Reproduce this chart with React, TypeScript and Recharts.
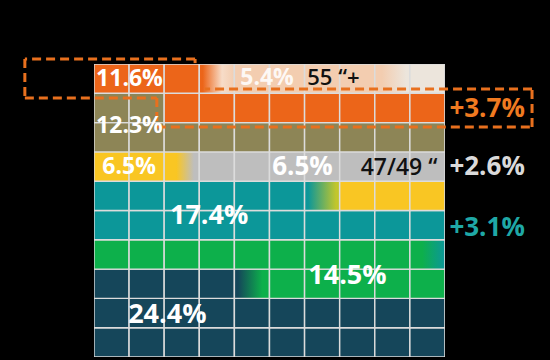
import React from "react";
import { BarChart, Bar, Cell, XAxis, YAxis, ReferenceDot, ReferenceLine } from "recharts";

// Waffle grid: 10 columns x 10 rows, each cell = 1%
const columns = [1, 2, 3, 4, 5, 6, 7, 8, 9, 10];
// rows from top to bottom; each char = one cell's category
const gridRows = [
  "OOOaPPPPbL",
  "VVOOOOOOOO",
  "VVVVVVVVVV",
  "YYcSSSSSSS",
  "TTTTTTdYYY",
  "TTTTTTTTTT",
  "GGGGGGGGGe",
  "NNNNfGGGGG",
  "NNNNNNNNNN",
  "NNNNNNNNNN",
];
const shareLabels = ["11.6%", "5.4%", "55 “+", "12.3%", "6.5%", "6.5%", "47/49 “", "17.4%", "14.5%", "24.4%"];
const changeLabels = ["+3.7%", "+2.6%", "+3.1%"];

const COLORS: Record<string, string> = {
  O: "#EC6519",
  P: "#F3CDB0",
  L: "#ECE5DC",
  V: "#8D8556",
  Y: "#F9C623",
  S: "#BEBEBE",
  T: "#0C9799",
  G: "#0DB04B",
  N: "#15465A",
  a: "url(#gA)",
  b: "url(#gB)",
  c: "url(#gC)",
  d: "url(#gD)",
  e: "url(#gE)",
  f: "url(#gF)",
};

const data = columns.map((c) => {
  const o: Record<string, number> = { col: c };
  gridRows.forEach((_, ri) => {
    o[`r${ri}`] = 1;
  });
  return o;
});

// annotation placement (data coordinates: x = column number, y = rows from bottom)
const shareLayout = [
  { x: 1.51, y: 9.52, fill: "#ffffff", size: 23, weight: 700 },
  { x: 5.43, y: 9.56, fill: "rgba(255,255,255,0.88)", size: 23, weight: 700 },
  { x: 7.32, y: 9.56, fill: "#111111", size: 22, weight: 600 },
  { x: 1.51, y: 7.92, fill: "#ffffff", size: 23, weight: 700 },
  { x: 1.5, y: 6.52, fill: "#ffffff", size: 23, weight: 700 },
  { x: 6.44, y: 6.52, fill: "#ffffff", size: 26, weight: 700 },
  { x: 9.19, y: 6.5, fill: "#111111", size: 23, weight: 600 },
  { x: 3.78, y: 4.85, fill: "#ffffff", size: 27, weight: 700 },
  { x: 7.72, y: 2.83, fill: "#ffffff", size: 27, weight: 700 },
  { x: 2.59, y: 1.5, fill: "#ffffff", size: 27, weight: 700 },
];
const changeLayout = [
  { x: 11.7, y: 8.5, fill: "#F07A20" },
  { x: 11.7, y: 6.52, fill: "#DADADA" },
  { x: 11.7, y: 4.44, fill: "#1FA8A6" },
];
const dashPath = [
  { x: 3.38, y: 10.03 },
  { x: 3.38, y: 10.17 },
  { x: -1.47, y: 10.17 },
  { x: -1.47, y: 8.84 },
  { x: 2.29, y: 8.84 },
  { x: 2.29, y: 7.85 },
  { x: 12.98, y: 7.85 },
  { x: 12.98, y: 9.15 },
  { x: 3.66, y: 9.15 },
];

const FONT = "'Open Sans', 'DejaVu Sans', sans-serif";

export default function App() {
  const rowIdx = gridRows.map((_, i) => i).reverse(); // bottom row stacked first
  return (
    <div style={{ position: "fixed", left: 0, top: 0, width: 550, height: 360, background: "#000" }}>
      <BarChart
        width={550}
        height={360}
        data={data}
        margin={{ top: 64, left: 94, right: 105, bottom: 3 }}
        barCategoryGap={0}
        barGap={0}
      >
        <defs>
          <linearGradient id="gA" x1="0" y1="0" x2="1" y2="0">
            <stop offset="0.1" stopColor="#EC6519" />
            <stop offset="0.65" stopColor="#F7DCC8" />
            <stop offset="1" stopColor="#F3CDB0" />
          </linearGradient>
          <linearGradient id="gB" x1="0" y1="0" x2="1" y2="0">
            <stop offset="0.2" stopColor="#F3CDB0" />
            <stop offset="0.9" stopColor="#ECE5DC" />
          </linearGradient>
          <linearGradient id="gC" x1="0" y1="0" x2="1" y2="0">
            <stop offset="0.35" stopColor="#F9C623" />
            <stop offset="0.85" stopColor="#BEBEBE" />
          </linearGradient>
          <linearGradient id="gD" x1="0" y1="0" x2="1" y2="0">
            <stop offset="0.1" stopColor="#0C9799" />
            <stop offset="0.9" stopColor="#C2C62C" />
          </linearGradient>
          <linearGradient id="gE" x1="0" y1="0" x2="1" y2="0">
            <stop offset="0.35" stopColor="#0DB04B" />
            <stop offset="1" stopColor="#0C9799" />
          </linearGradient>
          <linearGradient id="gF" x1="0" y1="0" x2="1" y2="0">
            <stop offset="0.1" stopColor="#15465A" />
            <stop offset="0.8" stopColor="#0DB04B" />
          </linearGradient>
        </defs>
        <XAxis dataKey="col" type="number" domain={[0.5, 10.5]} hide allowDataOverflow />
        <YAxis type="number" domain={[0, 10]} hide allowDataOverflow />
        {rowIdx.map((ri) => (
          <Bar
            key={ri}
            dataKey={`r${ri}`}
            stackId="a"
            isAnimationActive={false}
            stroke="#DCDCDC"
            strokeWidth={1.4}
          >
            {columns.map((c, ci) => (
              <Cell key={c} fill={COLORS[gridRows[ri][ci]]} />
            ))}
          </Bar>
        ))}
        {dashPath.slice(1).map((p, i) => (
          <ReferenceLine
            key={`d${i}`}
            segment={[dashPath[i], p]}
            stroke="#E8701E"
            strokeWidth={3}
            strokeDasharray="9 5"
            ifOverflow="visible"
          />
        ))}
        {shareLabels.map((t, i) => (
          <ReferenceDot
            key={`s${i}`}
            x={shareLayout[i].x}
            y={shareLayout[i].y}
            r={0}
            fill="none"
            stroke="none"
            ifOverflow="visible"
            label={{
              value: t,
              position: "center",
              fill: shareLayout[i].fill,
              fontSize: shareLayout[i].size,
              fontWeight: shareLayout[i].weight,
              fontFamily: FONT,
            }}
          />
        ))}
        {changeLabels.map((t, i) => (
          <ReferenceDot
            key={`c${i}`}
            x={changeLayout[i].x}
            y={changeLayout[i].y}
            r={0}
            fill="none"
            stroke="none"
            ifOverflow="visible"
            label={{
              value: t,
              position: "center",
              fill: changeLayout[i].fill,
              fontSize: 26,
              fontWeight: 700,
              fontFamily: FONT,
            }}
          />
        ))}
      </BarChart>
    </div>
  );
}
